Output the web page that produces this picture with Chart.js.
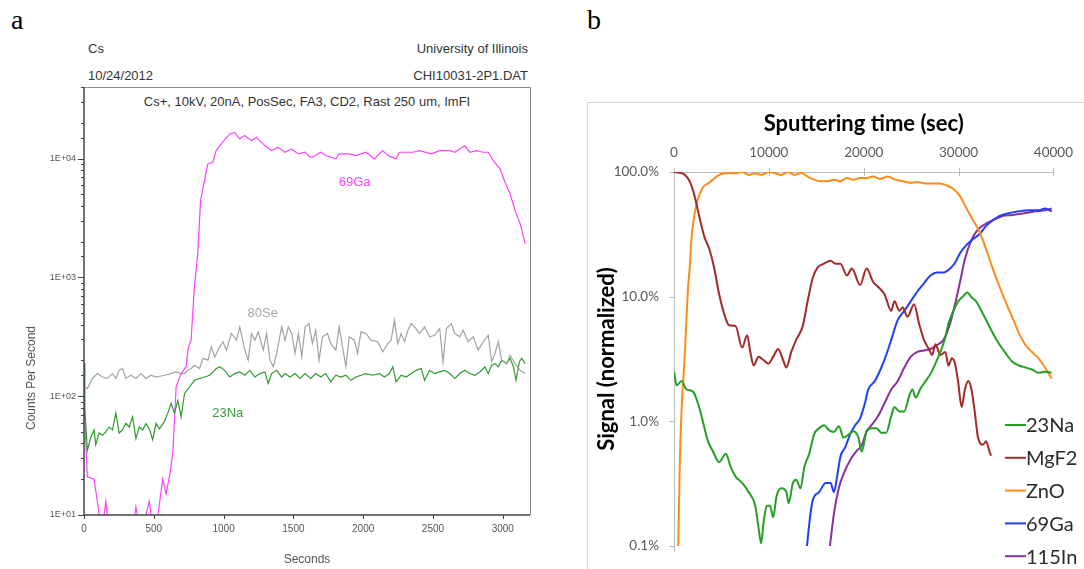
<!DOCTYPE html>
<html>
<head>
<meta charset="utf-8">
<title>SIMS depth profiles</title>
<script src="https://cdn.jsdelivr.net/npm/chart.js@4.4.0/dist/chart.umd.min.js"></script>
<style>
body { margin: 0; width: 1084px; height: 569px; position: relative; overflow: hidden; background: #fff; }
canvas { position: absolute; top: 0; }
#chartA { left: 0; }
#chartB { left: 580px; }
.lbl { position: absolute; white-space: nowrap; font-family: "Liberation Sans", Arial, sans-serif; font-size: 13px; line-height: 15px; color: #333; }
.panel { position: absolute; font-family: "Liberation Serif", "Times New Roman", serif; font-size: 28px; line-height: 28px; color: #000; }
</style>
</head>
<body>
<div class="panel" style="left:11px;top:6px">a</div>
<div class="panel" style="left:587px;top:6px">b</div>
<div class="lbl" style="left:88px;top:41px">Cs</div>
<div class="lbl" style="right:556px;top:41px">University of Illinois</div>
<div class="lbl" style="left:88px;top:68px">10/24/2012</div>
<div class="lbl" style="right:556px;top:68px">CHI10031-2P1.DAT</div>
<div class="lbl" style="left:84px;width:446px;top:94px;text-align:center">Cs+, 10kV, 20nA, PosSec, FA3, CD2, Rast 250 um, ImFI</div>
<canvas id="chartA" width="545" height="569"></canvas>
<canvas id="chartB" width="504" height="569"></canvas>
<script>
// ---------- panel a : raw counts (Cs+ primary) ----------
const gaTimeA = [0, 24, 72, 108, 120, 156, 180, 240, 336, 372, 408, 468, 504, 564, 588, 612, 636, 660, 696, 731, 748, 767, 791, 815, 835, 863, 887, 923, 947, 983, 1043, 1079, 1115, 1151, 1199, 1235, 1295, 1343, 1391, 1439, 1487, 1535, 1583, 1619, 1636, 1696, 1732, 1804, 1828, 1900, 1948, 2020, 2080, 2140, 2176, 2236, 2260, 2356, 2404, 2488, 2548, 2620, 2656, 2692, 2728, 2764, 2812, 2860, 2896, 2932, 2980, 3016, 3052, 3088, 3124, 3160];
const gaCountsA = [87, 21, 20, 10.3, 6, 13, 7, 6, 6, 11.7, 7, 13, 6, 20, 15, 21, 33, 120, 155, 177, 260, 296, 830, 1580, 4440, 6530, 9020, 9310, 11670, 13300, 16100, 16600, 14600, 15600, 14200, 15100, 12850, 11670, 12450, 11300, 12050, 10940, 11300, 10260, 10260, 11300, 10590, 9930, 10940, 10940, 10590, 11300, 9930, 11670, 10590, 9930, 11300, 11300, 11670, 10940, 11670, 11670, 11300, 12050, 12850, 11300, 11670, 11300, 11300, 9620, 8190, 6320, 5050, 3660, 2830, 1920];

const seTimeA = [0, 24, 60, 96, 132, 168, 204, 228, 252, 276, 300, 336, 372, 408, 444, 480, 516, 576, 624, 660, 696, 720, 744, 768, 792, 828, 852, 888, 912, 936, 972, 996, 1020, 1056, 1092, 1116, 1152, 1176, 1200, 1224, 1248, 1284, 1308, 1332, 1356, 1380, 1416, 1440, 1464, 1488, 1512, 1536, 1560, 1584, 1612, 1636, 1660, 1684, 1708, 1744, 1768, 1804, 1828, 1852, 1876, 1900, 1936, 1960, 1984, 2020, 2056, 2104, 2140, 2176, 2200, 2224, 2248, 2272, 2296, 2320, 2344, 2368, 2404, 2440, 2476, 2512, 2548, 2572, 2596, 2632, 2656, 2692, 2716, 2752, 2788, 2824, 2860, 2896, 2920, 2944, 2968, 2992, 3028, 3052, 3088, 3124, 3160];
const seCountsA = [120, 116, 141, 155, 145, 141, 155, 141, 165, 171, 141, 150, 141, 155, 141, 150, 145, 150, 155, 160, 155, 155, 165, 171, 182, 171, 208, 201, 260, 214, 260, 287, 244, 337, 296, 383, 244, 201, 337, 296, 348, 244, 337, 201, 177, 229, 383, 296, 383, 337, 229, 337, 214, 383, 408, 277, 359, 201, 316, 337, 277, 244, 383, 260, 177, 316, 296, 229, 348, 337, 296, 287, 236, 277, 296, 435, 277, 337, 287, 359, 408, 383, 337, 383, 316, 326, 371, 195, 371, 408, 337, 316, 359, 287, 316, 244, 287, 326, 195, 229, 287, 201, 188, 221, 188, 165, 155];

const naTimeA = [0, 6, 24, 48, 72, 84, 108, 132, 156, 180, 204, 228, 252, 276, 300, 324, 348, 372, 396, 420, 444, 468, 492, 516, 540, 576, 600, 624, 648, 672, 696, 720, 756, 792, 828, 864, 900, 924, 948, 972, 1008, 1044, 1080, 1116, 1152, 1188, 1224, 1260, 1296, 1320, 1344, 1380, 1416, 1440, 1476, 1512, 1548, 1584, 1624, 1660, 1696, 1732, 1768, 1804, 1840, 1876, 1912, 1948, 1984, 2020, 2068, 2116, 2152, 2188, 2212, 2236, 2272, 2308, 2344, 2380, 2416, 2440, 2476, 2512, 2548, 2584, 2620, 2656, 2692, 2728, 2764, 2800, 2836, 2872, 2896, 2920, 2944, 2968, 2992, 3028, 3052, 3076, 3095, 3119, 3136, 3160];
const naCountsA = [190, 80, 35, 45, 52, 39, 49, 47, 50, 55, 52, 72, 49, 52, 59, 55, 67, 44, 55, 52, 59, 53, 43, 59, 53, 61, 72, 87, 72, 92, 67, 105, 120, 136, 141, 145, 150, 160, 171, 177, 165, 145, 155, 160, 150, 165, 145, 155, 160, 128, 155, 165, 145, 155, 145, 155, 141, 155, 141, 155, 145, 155, 132, 150, 145, 150, 136, 145, 150, 155, 150, 155, 145, 155, 177, 132, 150, 145, 155, 165, 171, 136, 165, 155, 160, 165, 155, 141, 155, 165, 155, 150, 160, 177, 155, 182, 188, 177, 201, 188, 208, 177, 136, 195, 208, 188];

const xTicksA = [0, 500, 1000, 1500, 2000, 2500, 3000];
const yDecadesA = [10, 100, 1000, 10000];
const yLabelsA = ['1E+01', '1E+02', '1E+03', '1E+04'];
// where the species names sit, in data units (seconds, counts)
const curveNamesA = ['69Ga', '80Se', '23Na'];
const curveNameAtA = [[1939, 6300], [1280, 500], [1030, 71]];

// ---------- panel b : normalized signal ----------
const seriesNamesB = ['23Na', 'MgF2', 'ZnO', '69Ga', '115In'];

const naTimeB = [0, 276, 794, 1312, 2003, 2520, 3040, 3557, 4075, 4765, 5456, 5974, 6493, 7183, 7873, 8564, 8909, 9185, 9427, 9772, 10117, 10463, 10808, 11326, 11845, 12086, 12535, 12880, 13329, 13743, 14261, 14780, 15298, 15816, 16334, 16852, 17370, 17888, 18406, 18924, 19441, 19787, 20300, 20820, 21330, 21860, 22370, 22900, 23240, 23760, 24280, 24800, 25140, 25480, 26000, 26520, 27040, 27560, 28080, 28600, 28940, 29460, 29980, 30500, 30910, 31360, 31880, 32400, 32910, 33600, 34290, 34980, 35670, 36360, 37050, 37740, 38430, 39120, 39810];
const naPctB = [2.5, 1.94, 2.1, 1.8, 1.73, 1.4, 1.0, 0.70, 0.58, 0.47, 0.55, 0.43, 0.36, 0.32, 0.27, 0.21, 0.14, 0.105, 0.15, 0.21, 0.21, 0.17, 0.25, 0.29, 0.27, 0.22, 0.32, 0.34, 0.29, 0.43, 0.55, 0.79, 0.88, 0.93, 0.85, 0.82, 0.91, 0.74, 0.78, 0.83, 0.74, 0.57, 0.83, 0.88, 0.88, 0.81, 0.81, 1.1, 1.3, 1.2, 1.2, 1.6, 1.8, 1.55, 1.84, 2.1, 2.4, 2.9, 3.6, 4.7, 6.1, 7.7, 9.2, 10.1, 10.8, 9.9, 9.1, 7.7, 6.5, 5.1, 4.15, 3.5, 3.0, 2.8, 2.7, 2.6, 2.45, 2.5, 2.45];

const mgTimeB = [0, 500, 1140, 1658, 2175, 2693, 3211, 3730, 4247, 4765, 5283, 5800, 6493, 7183, 7700, 8045, 8390, 8909, 9427, 9945, 10463, 10982, 11500, 11845, 12362, 12880, 13570, 14089, 14607, 15125, 15816, 16507, 17024, 17542, 18233, 18752, 19614, 20305, 21000, 21515, 22200, 22900, 23240, 23760, 24100, 24620, 25310, 25830, 26350, 26870, 27210, 27560, 28080, 28600, 28940, 29290, 29630, 29980, 30320, 30670, 31020, 31360, 31700, 32050, 32570, 32900, 33260, 33430];
const mgPctB = [100, 99, 95, 84, 64, 43, 30, 24, 16.8, 10.4, 7.3, 5.9, 5.8, 3.9, 4.9, 3.6, 2.8, 3.3, 3.1, 2.9, 3.3, 3.8, 3.1, 2.7, 3.6, 4.5, 5.8, 9.2, 14, 17.1, 18.4, 19.4, 18.4, 18.4, 14.8, 16.8, 12.4, 16.8, 13.1, 12, 10.4, 7.7, 9.2, 7.7, 8.2, 6.9, 8.7, 6.1, 4.5, 3.8, 3.4, 4.15, 3.4, 3.6, 2.8, 3.2, 2.9, 2.0, 1.3, 1.8, 2.1, 1.8, 1.2, 0.74, 0.65, 0.69, 0.57, 0.53];

const znTimeB = [300, 446, 622, 794, 1140, 1485, 1658, 1830, 2348, 3040, 3730, 4765, 5800, 6493, 7183, 7873, 8564, 9254, 9945, 10636, 11326, 12017, 12708, 13398, 14089, 14780, 15470, 16161, 16852, 17542, 18233, 18924, 19614, 20305, 21000, 21700, 22550, 23300, 24100, 24970, 25700, 26500, 27300, 28000, 28770, 29460, 30150, 30840, 31530, 32220, 32910, 33600, 34290, 34980, 35670, 36360, 37050, 37740, 38430, 39120, 39810];
const znPctB = [0.06, 0.1, 0.5, 1.2, 3.5, 11.8, 17, 28.5, 54, 75, 82, 95, 98, 97.7, 100, 94.8, 97.7, 94.8, 100, 97.7, 94.8, 100, 94.8, 98.5, 92, 86.8, 84.3, 84.3, 86.8, 84.3, 89.4, 86.8, 89.4, 89.4, 92, 88, 92, 86.8, 84.3, 82, 83, 81, 81, 81, 78, 73, 64, 51, 41, 33, 24, 16.8, 12.2, 9, 6.8, 5.1, 4.1, 3.6, 3.2, 2.7, 2.2];

const gaTimeB = [13900, 14261, 14607, 15298, 15989, 16507, 16852, 17197, 17542, 18060, 18579, 19096, 19614, 20132, 20480, 21170, 21860, 22370, 22900, 23590, 24280, 24970, 25660, 26350, 27040, 27730, 28420, 29110, 29630, 30150, 30840, 31530, 32220, 32910, 33600, 34290, 35320, 36360, 37390, 38430, 39120, 39810];
const gaPctB = [0.08, 0.15, 0.23, 0.27, 0.32, 0.32, 0.27, 0.36, 0.52, 0.62, 0.79, 0.93, 1.05, 1.4, 1.8, 2.1, 2.7, 3.4, 4.5, 6.5, 7.7, 9.2, 11, 12.8, 14.8, 15.6, 15.6, 16.8, 18.7, 22.3, 26, 29, 31.8, 37, 41, 44.3, 46.8, 48.4, 49.3, 49.3, 51, 48.4];

const inTimeB = [16300, 16852, 17370, 17888, 18579, 19268, 19790, 20300, 20820, 21515, 22200, 22900, 23590, 24280, 24970, 25660, 26350, 27040, 27730, 28420, 29110, 29630, 30150, 30670, 31360, 32050, 32740, 33600, 34630, 35670, 37050, 38080, 39120, 39810];
const inPctB = [0.08, 0.18, 0.29, 0.38, 0.49, 0.58, 0.64, 0.83, 0.93, 1.1, 1.4, 1.8, 2.1, 2.7, 3.3, 3.6, 3.7, 3.8, 4.1, 4.5, 6.1, 8.7, 13.1, 20, 28.5, 34.6, 37.9, 41, 44.3, 45.2, 46.8, 48.4, 49.3, 51];

const xTicksB = [0, 10000, 20000, 30000, 40000];
const yDecadesB = [0.1, 1, 10, 100];
const yLabelsB = ['0.1%', '1.0%', '10.0%', '100.0%'];


const pts = (xs, ys) => xs.map((x, i) => ({ x: x, y: ys[i] }));
const decadeIndex = (list, v) => list.findIndex(d => Math.abs(d - v) < d * 1e-6);

//marco, ticks y nombres de las curvas del panel a
const frameA = {
    id: 'frameA',
    afterDraw(chart) {
        const { ctx, chartArea: a, scales: { x, y } } = chart;
        ctx.save();
        ctx.lineWidth = 1;
        ctx.strokeStyle = '#8a8a8a';
        ctx.beginPath();
        ctx.moveTo(a.left, a.top + 0.5);
        ctx.lineTo(a.right + 0.5, a.top + 0.5);
        ctx.lineTo(a.right + 0.5, a.bottom);
        ctx.stroke();

        ctx.strokeStyle = '#444';
        ctx.lineWidth = 1.5;
        ctx.beginPath();
        ctx.moveTo(a.left, a.top);
        ctx.lineTo(a.left, a.bottom);
        ctx.lineTo(a.right, a.bottom);
        ctx.stroke();

        ctx.lineWidth = 1;
        y.ticks.forEach(t => {
            const py = Math.round(y.getPixelForValue(t.value)) + 0.5;
            const len = decadeIndex(yDecadesA, t.value) >= 0 ? 6 : 3;
            ctx.beginPath();
            ctx.moveTo(a.left - len, py);
            ctx.lineTo(a.left, py);
            ctx.stroke();
        });
        x.ticks.forEach(t => {
            const px = Math.round(x.getPixelForValue(t.value)) + 0.5;
            ctx.beginPath();
            ctx.moveTo(px, a.bottom);
            ctx.lineTo(px, a.bottom + 4);
            ctx.stroke();
        });

        ctx.font = '13px "Liberation Sans", Arial, sans-serif';
        ctx.textAlign = 'center';
        ctx.textBaseline = 'middle';
        curveNamesA.forEach((name, i) => {
            const ds = chart.data.datasets.find(d => d.label === name);
            ctx.fillStyle = ds.nameColor;
            ctx.fillText(name, x.getPixelForValue(curveNameAtA[i][0]), y.getPixelForValue(curveNameAtA[i][1]));
        });

        ctx.fillStyle = '#555';
        ctx.font = '12px "Liberation Sans", Arial, sans-serif';
        ctx.translate(32, 378);
        ctx.rotate(-Math.PI / 2);
        ctx.fillText('Counts Per Second', 0, 0);
        ctx.restore();
    }
};

new Chart(document.querySelector('#chartA'), {
    type: 'line',
    data: {
        datasets: [
            { label: '80Se', data: pts(seTimeA, seCountsA), borderColor: '#a3a3a3', nameColor: '#a8a8a8' },
            { label: '23Na', data: pts(naTimeA, naCountsA), borderColor: '#2f9a2f', nameColor: '#3a9a3a' },
            { label: '69Ga', data: pts(gaTimeA, gaCountsA), borderColor: '#ff40ff', nameColor: '#ff44ff' }
        ]
    },
    options: {
        responsive: false,
        animation: false,
        devicePixelRatio: 1,
        layout: { padding: { left: 0, top: 87, right: 15, bottom: 0 } },
        elements: { point: { radius: 0 }, line: { borderWidth: 1.2, tension: 0 } },
        plugins: { legend: { display: false }, tooltip: { enabled: false } },
        scales: {
            x: {
                type: 'linear', min: 0, max: 3195,
                grid: { display: false, drawTicks: false }, border: { display: false },
                afterBuildTicks: s => { s.ticks = xTicksA.map(v => ({ value: v })); },
                ticks: { autoSkip: false, maxRotation: 0, padding: 8, color: '#555', font: { family: 'Liberation Sans', size: 10 }, callback: v => String(v) },
                title: { display: true, text: 'Seconds', color: '#555', font: { family: 'Liberation Sans', size: 12 }, padding: { top: 0, bottom: 2 } },
                afterFit: s => { s.height = 54; }
            },
            y: {
                type: 'logarithmic', min: 10, max: 40000,
                grid: { display: false, drawTicks: false }, border: { display: false },
                ticks: {
                    autoSkip: false, padding: 8, color: '#555', font: { family: 'Liberation Sans', size: 9 },
                    callback: v => { const i = decadeIndex(yDecadesA, v); return i >= 0 ? yLabelsA[i] : ''; }
                },
                afterFit: s => { s.width = 84; }
            }
        }
    },
    plugins: [frameA]
});

//ejes, marco exterior y leyenda del panel b
const frameB = {
    id: 'frameB',
    beforeDatasetsDraw(chart) {
        const { ctx, chartArea: a, scales: { x, y } } = chart;
        ctx.save();
        ctx.strokeStyle = '#d6d6d6';
        ctx.lineWidth = 1;
        ctx.strokeRect(7.5, 102.5, 600, 600);

        ctx.strokeStyle = '#bdbdbd';
        ctx.beginPath();
        ctx.moveTo(a.left + 0.5, a.top - 4);
        ctx.lineTo(a.left + 0.5, a.bottom + 6);
        ctx.moveTo(a.left, a.top + 0.5);
        ctx.lineTo(a.right, a.top + 0.5);
        ctx.stroke();
        x.ticks.forEach(t => {
            const px = Math.round(x.getPixelForValue(t.value)) + 0.5;
            ctx.beginPath();
            ctx.moveTo(px, a.top - 4);
            ctx.lineTo(px, a.top + 4);
            ctx.stroke();
        });
        yDecadesB.forEach(v => {
            const py = Math.round(y.getPixelForValue(v)) + 0.5;
            ctx.beginPath();
            ctx.moveTo(a.left - 5, py);
            ctx.lineTo(a.left, py);
            ctx.stroke();
        });
        ctx.restore();
    },
    afterDraw(chart) {
        const ctx = chart.ctx;
        ctx.save();
        ctx.font = '20px Lato, "Open Sans", sans-serif';
        ctx.textBaseline = 'middle';
        ctx.textAlign = 'left';
        ctx.fillStyle = '#2b2b2b';
        ctx.lineWidth = 2;
        chart.data.datasets.forEach((ds, i) => {
            const yy = 425 + i * 32.8;
            ctx.strokeStyle = ds.borderColor;
            ctx.beginPath();
            ctx.moveTo(425, yy);
            ctx.lineTo(446, yy);
            ctx.stroke();
            ctx.fillText(ds.label, 446, yy + 1);
        });
        ctx.restore();
    }
};

const colorsB = ['#23a023', '#a3292a', '#ff8c1a', '#1f3fff', '#8b2f9c'];
const dataB = [pts(naTimeB, naPctB), pts(mgTimeB, mgPctB), pts(znTimeB, znPctB), pts(gaTimeB, gaPctB), pts(inTimeB, inPctB)];

new Chart(document.querySelector('#chartB'), {
    type: 'line',
    data: {
        datasets: seriesNamesB.map((name, i) => ({ label: name, data: dataB[i], borderColor: colorsB[i] }))
    },
    options: {
        responsive: false,
        animation: false,
        devicePixelRatio: 1,
        layout: { padding: { left: 0, top: 0, right: 24, bottom: 6 } },
        elements: { point: { radius: 0 }, line: { borderWidth: 2, cubicInterpolationMode: 'monotone' } },
        plugins: { legend: { display: false }, tooltip: { enabled: false } },
        scales: {
            x: {
                type: 'linear', position: 'top', min: 0, max: 40000,
                grid: { display: false, drawTicks: false }, border: { display: false },
                afterBuildTicks: s => { s.ticks = xTicksB.map(v => ({ value: v })); },
                ticks: { autoSkip: false, maxRotation: 0, padding: 11, color: '#595959', font: { family: 'Lato', size: 13.5 }, callback: v => String(v) },
                title: { display: true, text: 'Sputtering time (sec)', color: '#000', font: { family: 'Lato', size: 22, weight: 'bold' }, padding: { top: 111, bottom: 0 } },
                afterFit: s => { s.height = 172; }
            },
            y: {
                type: 'logarithmic', min: 0.1, max: 100,
                grid: { display: false, drawTicks: false }, border: { display: false },
                ticks: {
                    autoSkip: false, padding: 15, color: '#595959', font: { family: 'Lato', size: 13.5 },
                    callback: v => { const i = decadeIndex(yDecadesB, v); return i >= 0 ? yLabelsB[i] : ''; }
                },
                title: { display: true, text: 'Signal (normalized)', color: '#000', font: { family: 'Lato', size: 22, weight: 'bold' }, padding: { top: 14, bottom: 0 } },
                afterFit: s => { s.width = 94; }
            }
        }
    },
    plugins: [frameB]
});
</script>
</body>
</html>
